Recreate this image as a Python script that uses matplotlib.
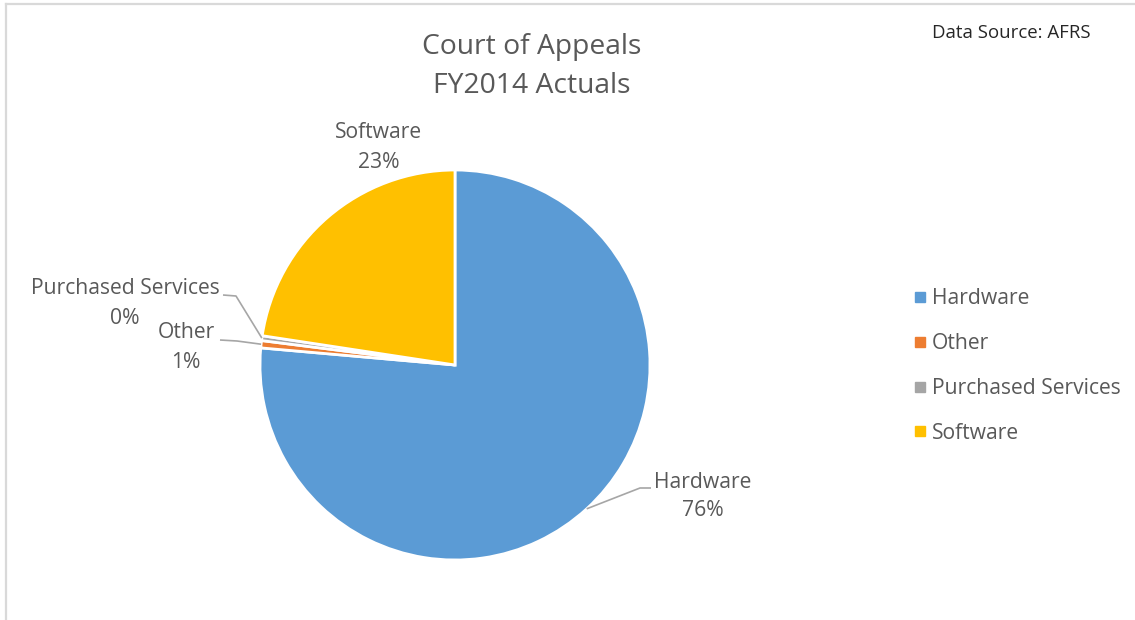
import numpy as np
import matplotlib.pyplot as plt
from matplotlib.lines import Line2D

plt.rcParams['font.family'] = ['Open Sans', 'DejaVu Sans']

categories = ["Hardware", "Other", "Purchased Services", "Software"]
amounts = [76.4, 0.6, 0.4, 22.6]
colors = ["#5B9BD5", "#ED7D31", "#A5A5A5", "#FFC000"]

W, H = 1135, 620
TXT = "#595959"

fig = plt.figure(figsize=(W / 100, H / 100), dpi=100)
ax = fig.add_axes([0, 0, 1, 1])


def py(y):
    # pixel rows count from the top
    return H - y


cx, cy, r = 455, 365, 195
wedges, _ = ax.pie(amounts, colors=colors, startangle=90, counterclock=False,
                   center=(cx, py(cy)), radius=r, frame=True,
                   wedgeprops=dict(edgecolor="white", linewidth=2))
ax.set_xlim(0, W)
ax.set_ylim(0, H)
ax.set_aspect("equal")
ax.axis("off")

pct = 100 * np.array(amounts) / sum(amounts)

# label x, name row, percent row, leader end, leader elbow
label_layout = {
    "Hardware": (703, 482, 511, (651, 488), (640, 488)),
    "Other": (186, 333, 363, (220, 340), (237, 341)),
    "Purchased Services": (125, 288, 318, (223, 295), (236, 296)),
    "Software": (379, 132, 162, None, None),
}

for w, name, p in zip(wedges, categories, pct):
    tx, y1, y2, end, elbow = label_layout[name]
    ax.text(tx, py(y1), name, ha="center", va="center",
            fontsize=15.2, color=TXT)
    ax.text(tx, py(y2), f"{p:.0f}%", ha="center", va="center",
            fontsize=15.2, color=TXT)
    if end is None:
        continue
    mid = np.deg2rad((w.theta1 + w.theta2) / 2)
    ax_x = w.center[0] + w.r * np.cos(mid)
    ax_y = w.center[1] + w.r * np.sin(mid)
    ax.plot([end[0], elbow[0], ax_x], [py(end[1]), py(elbow[1]), ax_y],
            color="#A6A6A6", lw=1.2, solid_capstyle="butt")

ax.text(532, py(47), "Court of Appeals", ha="center", va="center",
        fontsize=20.3, color=TXT)
ax.text(532, py(86), "FY2014 Actuals", ha="center", va="center",
        fontsize=20.3, color=TXT)

ax.text(932, py(33), "Data Source: AFRS", ha="left", va="center",
        fontsize=13.4, color="#262626")

handles = [Line2D([], [], marker="s", ls="", markersize=7.5,
                  markerfacecolor=c, markeredgecolor=c) for c in colors]
fig.legend(handles, categories, loc="center left",
           bbox_to_anchor=(913.6 / W, 1 - 366 / H), frameon=False,
           borderpad=0, borderaxespad=0,
           fontsize=15.2, labelcolor=TXT, handlelength=0.6, handletextpad=0.26,
           labelspacing=1.13)

# chart area border
ax.plot([5.5, 5.5], [0, py(3.5)], color="#D9D9D9", lw=1.6)
ax.plot([5.5, W], [py(3.5), py(3.5)], color="#D9D9D9", lw=1.6)

fig.savefig("out.png", dpi=100, facecolor="white")
